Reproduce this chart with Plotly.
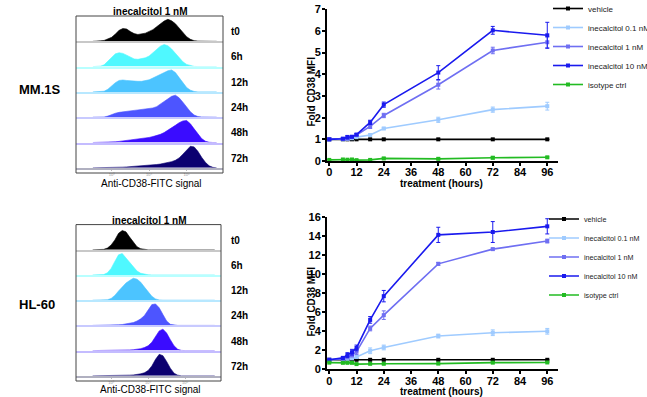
import plotly.graph_objects as go

# ---------------- data ----------------
hours = [0, 6, 8, 10, 12, 18, 24, 48, 72, 96]
x_ticks = [0, 12, 24, 36, 48, 60, 72, 84, 96]

series_names = ["vehicle", "inecalcitol 0.1 nM", "inecalcitol 1 nM",
                "inecalcitol 10 nM", "isotype ctrl"]

# MM.1S fold CD38 MFI
mm_vehicle = [1, 1, 1, 1, 1, 1, 1, 1, 1, 1]
mm_01 = [1, 1.0, 1.02, 1.05, 1.1, 1.2, 1.5, 1.9, 2.37, 2.53]
mm_1 = [1, 1.02, 1.05, 1.1, 1.2, 1.6, 2.1, 3.52, 5.1, 5.48]
mm_10 = [1, 1.03, 1.1, 1.12, 1.22, 1.78, 2.6, 4.08, 6.03, 5.8]
mm_iso = [0.05, 0.07, 0.06, 0.07, 0.04, 0.05, 0.12, 0.1, 0.15, 0.17]
mm_vehicle_err = [0.01, 0.01, 0.01, 0.01, 0.01, 0.01, 0.01, 0.01, 0.01, 0.01]
mm_01_err = [0.01, 0.02, 0.03, 0.03, 0.03, 0.04, 0.05, 0.12, 0.12, 0.18]
mm_1_err = [0.01, 0.03, 0.08, 0.05, 0.05, 0.1, 0.1, 0.2, 0.15, 0.25]
mm_10_err = [0.01, 0.04, 0.08, 0.05, 0.05, 0.1, 0.12, 0.32, 0.18, 0.6]
mm_iso_err = [0.01, 0.01, 0.01, 0.01, 0.01, 0.01, 0.03, 0.03, 0.06, 0.03]

# HL-60 fold CD38 MFI
hl_vehicle = [1, 1, 1, 1, 1, 1, 1, 1, 1, 1]
hl_01 = [1, 1.05, 1.1, 1.15, 1.3, 1.95, 2.3, 3.5, 3.85, 4.0]
hl_1 = [1, 1.1, 1.3, 1.5, 1.85, 4.3, 5.7, 11.1, 12.65, 13.5]
hl_10 = [1, 1.2, 1.5, 1.8, 2.25, 5.2, 7.7, 14.15, 14.45, 15.05]
hl_iso = [0.7, 0.68, 0.68, 0.68, 0.55, 0.58, 0.58, 0.6, 0.7, 0.72]
hl_vehicle_err = [0.02, 0.02, 0.02, 0.02, 0.02, 0.02, 0.02, 0.02, 0.02, 0.02]
hl_01_err = [0.02, 0.05, 0.1, 0.1, 0.15, 0.3, 0.25, 0.2, 0.3, 0.3]
hl_1_err = [0.02, 0.1, 0.2, 0.2, 0.3, 0.25, 0.45, 0.15, 0.1, 0.2]
hl_10_err = [0.02, 0.15, 0.25, 0.3, 0.3, 0.35, 0.6, 0.8, 1.1, 0.8]
hl_iso_err = [0.02, 0.02, 0.02, 0.02, 0.02, 0.02, 0.02, 0.02, 0.02, 0.02]

# flow histograms (log10 FITC intensity grid, % of mode)
fitc_log10 = [2.5, 2.6, 2.7, 2.8, 2.9, 3.0, 3.1, 3.2, 3.3, 3.4,
              3.5, 3.6, 3.7, 3.8, 3.9, 4.0, 4.1, 4.2, 4.3, 4.4,
              4.5, 4.6, 4.7, 4.8, 4.9, 5.0, 5.1, 5.2, 5.3, 5.4,
              5.5, 5.6, 5.7, 5.8]
time_labels = ["t0", "6h", "12h", "24h", "48h", "72h"]
fitc_ticks = [3, 4, 5]
fitc_tick_text = ["10³", "10⁴", "10⁵"]

mm1s_t0 = [0, 0, 2, 4, 12, 18, 33, 50, 58, 56, 44, 35, 31, 33, 37, 45, 53, 66, 80, 92,
           100, 93, 80, 60, 40, 21, 9, 3, 1, 0, 0, 0, 0, 0]
mm1s_6h = [0, 0, 2, 8, 25, 45, 58, 63, 60, 52, 42, 35, 33, 35, 40, 48, 62, 80, 93, 100,
           95, 80, 60, 40, 22, 10, 4, 1, 0, 0, 0, 0, 0, 0]
mm1s_12h = [0, 0, 0, 3, 12, 28, 42, 52, 54, 52, 50, 49, 48, 48, 50, 55, 63, 72, 80, 88,
            96, 100, 88, 65, 42, 20, 8, 2, 0, 0, 0, 0, 0, 0]
mm1s_24h = [0, 0, 0, 1, 5, 12, 18, 22, 25, 27, 29, 31, 33, 35, 37, 39, 42, 48, 60, 72,
            85, 95, 100, 88, 68, 45, 25, 10, 3, 1, 0, 0, 0, 0]
mm1s_48h = [0, 0, 0, 0, 0, 1, 3, 5, 7, 9, 11, 13, 15, 17, 20, 23, 27, 31, 37, 45,
            55, 65, 78, 90, 98, 100, 85, 62, 38, 18, 6, 1, 0, 0]
mm1s_72h = [0, 0, 0, 0, 0, 0, 1, 2, 3, 4, 5, 6, 7, 8, 9, 11, 13, 15, 17, 20,
            24, 28, 34, 45, 62, 82, 98, 95, 75, 48, 25, 9, 2, 0]

hl60_t0 = [0, 0, 0, 2, 8, 22, 45, 75, 88, 82, 58, 34, 14, 5, 1, 0, 0, 0, 0, 0,
           0, 0, 0, 0, 0, 0, 0, 0, 0, 0, 0, 0, 0, 0]
hl60_6h = [0, 0, 0, 2, 10, 30, 62, 92, 98, 78, 55, 35, 18, 8, 3, 1, 0, 0, 0, 0,
           0, 0, 0, 0, 0, 0, 0, 0, 0, 0, 0, 0, 0, 0]
hl60_12h = [0, 0, 0, 0, 2, 8, 22, 42, 62, 78, 90, 100, 96, 82, 60, 38, 18, 6, 1, 0,
            0, 0, 0, 0, 0, 0, 0, 0, 0, 0, 0, 0, 0, 0]
hl60_24h = [0, 0, 0, 0, 0, 1, 2, 3, 4, 6, 9, 13, 20, 30, 45, 68, 95, 98, 80, 50,
            20, 5, 1, 0, 0, 0, 0, 0, 0, 0, 0, 0, 0, 0]
hl60_48h = [0, 0, 0, 0, 0, 0, 0, 0, 1, 2, 3, 4, 6, 9, 14, 22, 38, 62, 90, 98,
            80, 50, 22, 6, 1, 0, 0, 0, 0, 0, 0, 0, 0, 0]
hl60_72h = [0, 0, 0, 0, 0, 0, 1, 1, 2, 2, 3, 4, 6, 9, 14, 24, 45, 75, 98, 92,
            65, 35, 12, 3, 0, 0, 0, 0, 0, 0, 0, 0, 0, 0]

# ---------------- styling ----------------
W, H = 647, 397
FONT = "Liberation Sans, Arial, sans-serif"
line_colors = ["#000000", "#9fcbff", "#6f6ff2", "#1a1aee", "#22bb22"]
hist_colors = ["#000000", "#4ff8ff", "#4cc4ff", "#4d55ff", "#3a0cff", "#0c0070"]
hist_base = ["#c8c8c8", "#b8ffff", "#b8e8ff", "#c8caff", "#c4bcff", "#b8b8d0"]


def fx(p):
    return p / W


def fy(p):
    return 1 - p / H


fig = go.Figure()

# ---------------- line charts ----------------
mm_vals = [mm_vehicle, mm_01, mm_1, mm_10, mm_iso]
mm_errs = [mm_vehicle_err, mm_01_err, mm_1_err, mm_10_err, mm_iso_err]
hl_vals = [hl_vehicle, hl_01, hl_1, hl_10, hl_iso]
hl_errs = [hl_vehicle_err, hl_01_err, hl_1_err, hl_10_err, hl_iso_err]

for vals, errs, xa, ya, leg in [(mm_vals, mm_errs, "x", "y", "legend"),
                                (hl_vals, hl_errs, "x2", "y2", "legend2")]:
    for name, col, yv, ev in zip(series_names, line_colors, vals, errs):
        fig.add_trace(go.Scatter(
            x=hours, y=yv, name=name, mode="lines+markers",
            line=dict(color=col, width=1.6),
            marker=dict(symbol="square", size=4, color=col),
            error_y=dict(type="data", array=ev, color=col, thickness=1, width=2),
            xaxis=xa, yaxis=ya, legend=leg, cliponaxis=False))

axis_style = dict(showline=True, linewidth=2, linecolor="black", ticks="outside",
                  ticklen=3, tickwidth=1.5, tickcolor="black", showgrid=False,
                  zeroline=False,
                  tickfont=dict(family=FONT, size=11, color="black", weight="bold"))

legend_style = dict(xanchor="left", yanchor="top",
                    bgcolor="rgba(0,0,0,0)", itemwidth=30)

layout = dict(
    width=W, height=H, margin=dict(l=0, r=0, t=0, b=0, autoexpand=False),
    paper_bgcolor="white", plot_bgcolor="white", showlegend=True,
    font=dict(family=FONT),
    xaxis=dict(domain=[fx(327), fx(557.5)], range=[-1, 100.5], anchor="y",
               tickvals=x_ticks, ticklabelstandoff=-3, **axis_style),
    yaxis=dict(domain=[fy(161), fy(9.3)], range=[0, 7], anchor="x", dtick=1,
               ticklabelstandoff=-1, **axis_style),
    xaxis2=dict(domain=[fx(327), fx(557.5)], range=[-1, 100.5], anchor="y2",
                tickvals=x_ticks, ticklabelstandoff=-3, **axis_style),
    yaxis2=dict(domain=[fy(369.3), fy(217.3)], range=[0, 16], anchor="x2", dtick=2,
                ticklabelstandoff=-1, **axis_style),
    legend=dict(x=fx(548), y=fy(-6), font=dict(family=FONT, size=8, color="#222"),
                **legend_style),
    legend2=dict(x=fx(544), y=fy(204.5), font=dict(family=FONT, size=7.2, color="#222"),
                 **legend_style),
)

# ---------------- histograms ----------------
panels = [
    dict(hists=[mm1s_t0, mm1s_6h, mm1s_12h, mm1s_24h, mm1s_48h, mm1s_72h],
         x0=76, x1=223, top=16, rowh=25.3, boxb=173, label="MM.1S", label_y=89,
         title_y=12, xlab_y=183),
    dict(hists=[hl60_t0, hl60_6h, hl60_12h, hl60_24h, hl60_48h, hl60_72h],
         x0=76, x1=221, top=224.6, rowh=25.2, boxb=381, label="HL-60", label_y=304,
         title_y=220.5, xlab_y=389),
]

annotations = []
shapes = []
ax_i = 3
for p in panels:
    for r, (hist, col, base, tl) in enumerate(zip(p["hists"], hist_colors, hist_base,
                                                   time_labels)):
        top = p["top"] + r * p["rowh"]
        bot = top + p["rowh"]
        xa, ya = f"x{ax_i}", f"y{ax_i}"
        fig.add_trace(go.Scatter(
            x=fitc_log10, y=hist, mode="lines", fill="tozeroy",
            line=dict(color=col, width=0.6), fillcolor=col,
            xaxis=xa, yaxis=ya, showlegend=False, hoverinfo="skip"))
        last = r == len(p["hists"]) - 1
        layout[f"xaxis{ax_i}"] = dict(
            domain=[fx(p["x0"]), fx(p["x1"])], range=[2.05, 5.97], anchor=ya,
            showline=True, linecolor=base if not last else "#b0b0c0", linewidth=2,
            showgrid=False, zeroline=False,
            tickvals=fitc_ticks if last else [],
            ticktext=fitc_tick_text if last else [],
            showticklabels=last, ticks="outside" if last else "",
            ticklen=1, tickcolor="#bbb",
            tickfont=dict(family=FONT, size=4, color="#999"))
        layout[f"yaxis{ax_i}"] = dict(domain=[fy(bot), fy(top)], range=[0, 115],
                                      anchor=xa, visible=False)
        annotations.append(dict(text=f"<b>{tl}</b>", x=fx(229), y=fy(top + p["rowh"] * 0.62),
                                xref="paper", yref="paper", xanchor="left",
                                yanchor="middle", showarrow=False,
                                font=dict(family=FONT, size=10, color="black")))
        ax_i += 1
    shapes.append(dict(type="rect", xref="paper", yref="paper",
                       x0=fx(p["x0"]), x1=fx(p["x1"]), y0=fy(p["boxb"]), y1=fy(p["top"]),
                       line=dict(color="#444", width=1), fillcolor="rgba(0,0,0,0)"))
    cx = (p["x0"] + p["x1"]) / 2
    annotations.append(dict(text="<b>inecalcitol 1 nM</b>", x=fx(cx), y=fy(p["title_y"]),
                            xref="paper", yref="paper", showarrow=False,
                            xanchor="center", yanchor="middle",
                            font=dict(family=FONT, size=10, color="black")))
    annotations.append(dict(text="Anti-CD38-FITC signal", x=fx(cx + 2), y=fy(p["xlab_y"]),
                            xref="paper", yref="paper", showarrow=False,
                            xanchor="center", yanchor="middle",
                            font=dict(family=FONT, size=10, color="black")))
    annotations.append(dict(text=f"<b>{p['label']}</b>", x=fx(17), y=fy(p["label_y"]),
                            xref="paper", yref="paper", showarrow=False,
                            xanchor="left", yanchor="middle",
                            font=dict(family=FONT, size=13, color="black")))

# axis titles for line charts
for ty, ly in [(183.5, 92), (391.5, 302)]:
    annotations.append(dict(text="<b>treatment (hours)</b>", x=fx(442), y=fy(ty),
                            xref="paper", yref="paper", showarrow=False,
                            xanchor="center", yanchor="middle",
                            font=dict(family=FONT, size=10, color="black")))
    annotations.append(dict(text="<b>Fold CD38 MFI</b>", x=fx(310.5), y=fy(ly),
                            xref="paper", yref="paper", showarrow=False, textangle=-90,
                            xanchor="center", yanchor="middle",
                            font=dict(family=FONT, size=10, color="black")))

layout["annotations"] = annotations
layout["shapes"] = shapes
fig.update_layout(**layout)
fig.write_html("out.html", config={"displayModeBar": False},
               post_script="document.body.style.margin='0';document.body.style.padding='0';")
